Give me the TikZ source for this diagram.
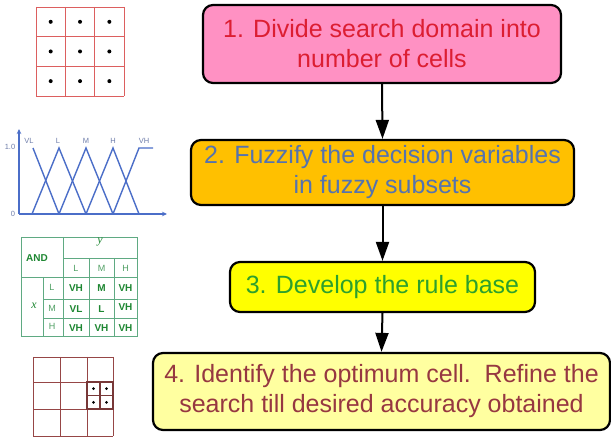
\documentclass[tikz,border=0pt]{standalone}
\usepackage{fontspec}
\setmainfont{Liberation Sans}
\newfontfamily\tabserif{Liberation Serif}
\usetikzlibrary{arrows.meta}

\definecolor{pinkfill}{RGB}{255,145,195}
\definecolor{redtext}{RGB}{220,30,50}
\definecolor{goldfill}{RGB}{255,192,0}
\definecolor{bluetext}{RGB}{85,115,175}
\definecolor{yellowfill}{RGB}{255,255,0}
\definecolor{greentext}{RGB}{45,160,45}
\definecolor{paleyellow}{RGB}{255,255,160}
\definecolor{browntext}{RGB}{150,55,65}
\definecolor{gridred}{RGB}{220,95,95}
\definecolor{griddark}{RGB}{150,70,70}
\definecolor{fuzzblue}{RGB}{75,110,200}
\definecolor{fuzzlabel}{RGB}{110,125,170}
\definecolor{tabline}{RGB}{95,170,130}
\definecolor{tabtext}{RGB}{30,135,50}
\definecolor{tabhead}{RGB}{80,160,100}

\tikzset{
  stepbox/.style={draw=black, line width=2.2pt, rounded corners=10pt,
    align=center, inner sep=0pt, font=\fontsize{25}{30}\selectfont},
  flow/.style={line width=2pt, -{Triangle[length=19pt,width=13pt]}},
  cellA/.style={draw=gridred, line width=0.9pt},
  cellB/.style={draw=griddark, line width=0.9pt},
  cellC/.style={draw=griddark!80!black, line width=1.4pt},
  fz/.style={draw=fuzzblue, line width=1.4pt},
  fzlab/.style={text=fuzzlabel, font=\fontsize{7.5}{8}\selectfont, inner sep=0pt},
  tl/.style={draw=tabline, line width=0.8pt},
  tb/.style={text=tabtext, font=\fontsize{10}{11}\selectfont\bfseries, inner sep=0pt},
  th/.style={text=tabhead, font=\fontsize{9}{10}\selectfont, inner sep=0pt},
  tv/.style={text=tabtext, font=\tabserif\itshape\fontsize{12}{13}\selectfont, inner sep=0pt},
}

\begin{document}
\begin{tikzpicture}[x=1pt,y=-1pt]
\useasboundingbox[fill=white] (0,0) rectangle (611,438);

% ---- flow chart boxes ----
\node[stepbox, fill=pinkfill, text=redtext, minimum width=358pt, minimum height=78pt]
  (b1) at (382,44) {1. Divide search domain into\\number of cells};
\node[stepbox, fill=goldfill, text=bluetext, minimum width=383pt, minimum height=65pt]
  (b2) at (382.5,172.5) {2. Fuzzify the decision variables\\in fuzzy subsets};
\node[stepbox, fill=yellowfill, text=greentext, minimum width=305pt, minimum height=50pt]
  (b3) at (382.5,287) {3. Develop the rule base};
\node[stepbox, fill=paleyellow, text=browntext, minimum width=457pt, minimum height=77pt]
  (b4) at (381.5,391.5) {4. Identify the optimum cell.\ \ Refine the\\search till desired accuracy obtained};

\draw[flow] (b1.south) -- (b2.north);
\draw[flow] (b2.south) -- (b3.north);
\draw[flow] (b3.south) -- (b4.north);

% ---- coarse 3x3 grid with cell centres ----
\foreach \i in {0,1,2,3} {
  \draw[cellA] (36+29.33*\i,7) -- (36+29.33*\i,96);
  \draw[cellA] (36,7+29.67*\i) -- (124,7+29.67*\i);
}
\foreach \i in {0,1,2} \foreach \j in {0,1,2}
  \fill (50.7+29.33*\i,21.8+29.67*\j) circle (2);

% ---- membership functions ----
\draw[fz,-{Stealth[length=5pt,width=4.5pt]}] (19,214) -- (19,129);
\draw[fz,-{Stealth[length=5pt,width=4.5pt]}] (19,214) -- (167,214);
\draw[fz] (33,148) -- (59,214);
\draw[fz] (32,214) -- (59,148) -- (86,214);
\draw[fz] (59,214) -- (86,148) -- (113,214);
\draw[fz] (86,214) -- (113,148) -- (139,214);
\draw[fz] (113,214) -- (139,148) -- (153,148);
\node[fzlab] (one) at (10,147) {1.0};
\node[fzlab] (zero) at (13,214) {0};
\node[fzlab] (lvl) at (29,141) {VL};
\node[fzlab] (ll) at (58,141) {L};
\node[fzlab] (lm) at (86,141) {M};
\node[fzlab] (lh) at (113,141) {H};
\node[fzlab] (lvh) at (144,141) {VH};

% ---- rule table ----
\draw[tl] (21,237) rectangle (137,336);
\draw[tl] (63,237) -- (63,336);
\draw[tl] (43,277) -- (43,336);
\draw[tl] (89,258) -- (89,336);
\draw[tl] (114,258) -- (114,336);
\draw[tl] (63,258) -- (137,258);
\draw[tl] (21,277) -- (137,277);
\draw[tl] (43,299) -- (137,299);
\draw[tl] (43,318) -- (137,318);
\node[tb] (and) at (37,258) {AND};
\node[tv] (vy) at (100,242) {y};
\node[tv] (vx) at (34,306) {x};
\node[th] (cl) at (76,268) {L};
\node[th] (cm) at (101.5,268) {M};
\node[th] (ch) at (125.5,268) {H};
\node[th] (rl) at (52,287) {L};
\node[th] (rm) at (52,308) {M};
\node[th] (rh) at (52,326) {H};
\node[tb] (e11) at (76,288) {VH};
\node[tb] (e12) at (101.5,288) {M};
\node[tb] (e13) at (125.5,288) {VH};
\node[tb] (e21) at (76,309) {VL};
\node[tb] (e22) at (101.5,309) {L};
\node[tb] (e23) at (125.5,307) {VH};
\node[tb] (e31) at (76,328) {VH};
\node[tb] (e32) at (101.5,328) {VH};
\node[tb] (e33) at (125.5,328) {VH};

% ---- refined grid around the best cell ----
\foreach \x in {33,60,87,113} \draw[cellB] (\x,357) -- (\x,436);
\foreach \y in {357,382,409,436} \draw[cellB] (33,\y) -- (113,\y);
\draw[cellC] (87,382) rectangle (113,409);
\draw[cellC] (100,382) -- (100,409);
\draw[cellC] (87,395.5) -- (113,395.5);
\foreach \x in {93.5,106.5} \foreach \y in {388.7,402.3}
  \fill (\x,\y) circle (1.5);
\end{tikzpicture}
\end{document}
